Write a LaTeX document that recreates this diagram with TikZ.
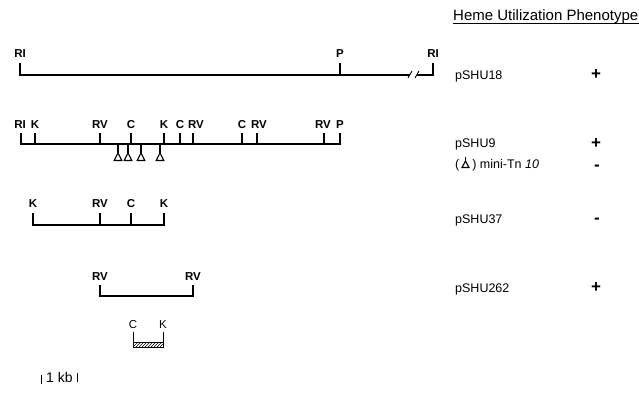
\documentclass[tikz,border=0pt]{standalone}
\usepackage{fontspec}
\setmainfont{Liberation Sans}
\usetikzlibrary{patterns}
\begin{document}
\begin{tikzpicture}[x=1pt,y=-1pt,
  map/.style={line width=1.8pt, line join=miter},
  thinmap/.style={line width=1.4pt, line join=miter},
  tn/.style={line width=1.1pt, fill=white, line join=miter},
  site/.style={font=\fontsize{11.5}{13}\selectfont\bfseries, anchor=base, inner sep=0pt},
  plainsite/.style={font=\fontsize{11.5}{13}\selectfont, anchor=base, inner sep=0pt},
  lab/.style={font=\fontsize{12.5}{14}\selectfont, anchor=base west, inner sep=0pt},
  sign/.style={font=\fontsize{17}{19}\selectfont\bfseries, anchor=base, inner sep=0pt}]
\useasboundingbox (0,0) rectangle (639,396);

% header
\node[lab, font=\fontsize{15}{17}\selectfont] (head) at (453,21) {Heme Utilization Phenotype};
\draw[line width=0.8pt] ([yshift=-2pt]head.base west) -- ([yshift=-2pt]head.base east);

% ---------- pSHU18 ----------
\coordinate (a1) at (20,63);
\coordinate (a2) at (20,75);
\coordinate (a3) at (410,75);
\coordinate (a4) at (417,75);
\coordinate (a5) at (433,75);
\coordinate (a6) at (433,63);
\draw[map] (a1) -- (a2) -- (a3);
\draw[map] (340,63) -- (340,75);
\draw[map] (a4) -- (a5) -- (a6);
\draw[line width=0.9pt] (408,78) -- (412,71);
\draw[line width=0.9pt] (415,78) -- (419,71);
\node[site] (a-ri1) at (20,58) {RI};
\node[site] (a-p) at (340,58) {P};
\node[site] (a-ri2) at (433,58) {RI};
\node[lab] (n18) at (455,79) {pSHU18};
\node[sign] (s18) at (596,79) {+};

% ---------- pSHU9 ----------
\draw[map] (21,133) -- (21,144) -- (340,144) -- (340,133);
\foreach \x in {35,100,131,164,180,193,242,257,324}
  \draw[map] (\x,133) -- (\x,144);
\node[site] (b1) at (20,128) {RI};
\node[site] (b2) at (35,128) {K};
\node[site] (b3) at (100,128) {RV};
\node[site] (b4) at (131,128) {C};
\node[site] (b5) at (164,128) {K};
\node[site] (b6) at (180,128) {C};
\node[site] (b7) at (196,128) {RV};
\node[site] (b8) at (242,128) {C};
\node[site] (b9) at (259,128) {RV};
\node[site] (b10) at (323,128) {RV};
\node[site] (b11) at (340,128) {P};
\foreach \x in {118,128,141,160}{
  \draw[line width=1.1pt] (\x,144) -- (\x,153);
  \draw[tn] (\x,153) -- (\x-3.8,160.5) -- (\x+3.8,160.5) -- cycle;
}
\node[lab] (n9) at (455,147) {pSHU9};
\node[sign] (s9) at (596,148) {+};
\node[lab] (tnl) at (455,168) {(\hspace{13pt}) mini-Tn \textit{10}};
\draw[line width=1.1pt] (465.5,157) -- (465.5,161);
\draw[tn] (465.5,161) -- (462,167.5) -- (469,167.5) -- cycle;
\node[sign] (stn) at (597,170.5) {-};

% ---------- pSHU37 ----------
\draw[map] (33,213) -- (33,225) -- (164,225) -- (164,213);
\foreach \x in {100,131}
  \draw[map] (\x,213) -- (\x,225);
\node[site] (c1) at (33,207) {K};
\node[site] (c2) at (100,207) {RV};
\node[site] (c3) at (131,207) {C};
\node[site] (c4) at (164,207) {K};
\node[lab] (n37) at (455,223) {pSHU37};
\node[sign] (s37) at (597,223.5) {-};

% ---------- pSHU262 ----------
\draw[thinmap] (100,285) -- (100,296) -- (193,296) -- (193,285);
\node[site] (d1) at (100,280) {RV};
\node[site] (d2) at (193,280) {RV};
\node[lab] (n262) at (455,292) {pSHU262};
\node[sign] (s262) at (596,292) {+};

% ---------- C-K fragment ----------
\draw[pattern=north east lines, line width=0.9pt] (133,342) rectangle (163,347);
\draw[line width=1pt] (133,332) -- (133,347);
\draw[line width=1pt] (163,332) -- (163,347);
\node[plainsite] (e1) at (133,328) {C};
\node[plainsite] (e2) at (163,328) {K};

% ---------- scale bar ----------
\node[lab, font=\fontsize{14}{16}\selectfont] (kb) at (46,382) {1 kb};
\draw[line width=1pt] (41,375) -- (41,384);
\draw[line width=1pt] (77,373) -- (77,382);
\end{tikzpicture}
\end{document}
